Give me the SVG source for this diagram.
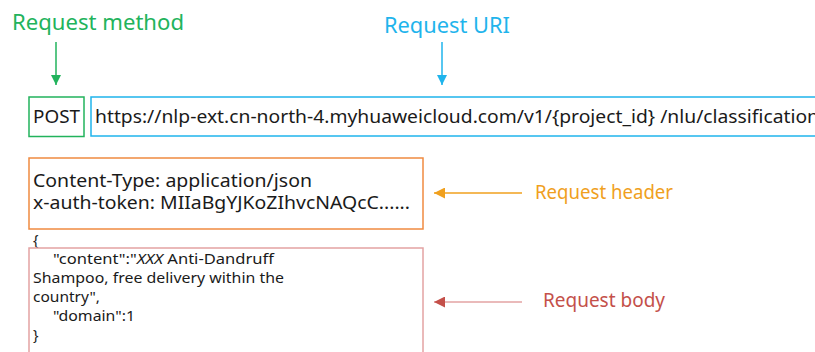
<svg xmlns="http://www.w3.org/2000/svg" width="815" height="352" viewBox="0 0 815 352">
  <style>
    text { font-family: "Noto Sans", "Open Sans", "DejaVu Sans", sans-serif; }
    .lbl { font-size: 19px; }
    .top { font-size: 21px; }
    .code { font-size: 18px; fill: #1a1a1a; }
    .body { font-size: 14.5px; fill: #1a1a1a; }
  </style>
  <defs>
    <marker id="ahGreen" viewBox="0 0 10 10" refX="10" refY="5" markerWidth="10" markerHeight="10" markerUnits="userSpaceOnUse" orient="auto">
      <path d="M0,0 L10,5 L0,10 z" fill="#22b35c"/>
    </marker>
    <marker id="ahBlue" viewBox="0 0 10 10" refX="10" refY="5" markerWidth="10" markerHeight="10" markerUnits="userSpaceOnUse" orient="auto">
      <path d="M0,0 L10,5 L0,10 z" fill="#1fb4ec"/>
    </marker>
    <marker id="ahOrange" viewBox="0 0 10 10" refX="10" refY="5" markerWidth="11" markerHeight="11" markerUnits="userSpaceOnUse" orient="auto">
      <path d="M0,0 L10,5 L0,10 z" fill="#f0a01e"/>
    </marker>
    <marker id="ahRed" viewBox="0 0 10 10" refX="10" refY="5" markerWidth="11" markerHeight="11" markerUnits="userSpaceOnUse" orient="auto">
      <path d="M0,0 L10,5 L0,10 z" fill="#c4504a"/>
    </marker>
  </defs>
  <rect width="815" height="352" fill="#ffffff"/>

  <!-- annotation labels -->
  <g id="label-method">
    <text class="top" x="12" y="30" fill="#22b35c" textLength="172" lengthAdjust="spacingAndGlyphs">Request method</text>
  </g>
  <g id="label-uri">
    <text class="top" x="384" y="33" fill="#1fb4ec" textLength="126" lengthAdjust="spacingAndGlyphs">Request URI</text>
  </g>
  <g id="label-header">
    <text class="lbl" x="535" y="199" fill="#f0a01e" textLength="138" lengthAdjust="spacingAndGlyphs">Request header</text>
  </g>
  <g id="label-body">
    <text class="lbl" x="543" y="307" fill="#c4504a" textLength="122" lengthAdjust="spacingAndGlyphs">Request body</text>
  </g>

  <!-- request line -->
  <g id="method">
    <rect x="29" y="97" width="55" height="39.5" fill="none" stroke="#22b35c" stroke-width="1.5"/>
    <text class="code" x="33" y="123" textLength="47" lengthAdjust="spacingAndGlyphs">POST</text>
  </g>
  <g id="uri">
    <rect x="91" y="97" width="740" height="39" fill="none" stroke="#1fb4ec" stroke-width="1.5"/>
    <text class="code" x="95" y="123" textLength="724" lengthAdjust="spacingAndGlyphs">https://nlp-ext.cn-north-4.myhuaweicloud.com/v1/{project_id} /nlu/classification</text>
  </g>

  <!-- headers -->
  <g id="header">
    <rect x="29" y="158" width="394" height="71" fill="none" stroke="#f08a40" stroke-width="1.5"/>
    <text class="code" x="33" y="187" textLength="279" lengthAdjust="spacingAndGlyphs">Content-Type: application/json</text>
    <text class="code" x="33" y="209" textLength="377" lengthAdjust="spacingAndGlyphs">x-auth-token: MIIaBgYJKoZIhvcNAQcC......</text>
  </g>

  <!-- body -->
  <g id="body">
    <text class="body" x="33" y="245">{</text>
    <rect x="29" y="248" width="394" height="120" fill="none" stroke="#e3a3a3" stroke-width="1.5"/>
    <text class="body" x="53" y="264" textLength="221" lengthAdjust="spacingAndGlyphs">"content":"<tspan font-style="italic">XXX</tspan> Anti-Dandruff</text>
    <text class="body" x="33" y="283" textLength="251" lengthAdjust="spacingAndGlyphs">Shampoo, free delivery within the</text>
    <text class="body" x="33" y="302" textLength="67" lengthAdjust="spacingAndGlyphs">country",</text>
    <text class="body" x="53" y="321" textLength="82" lengthAdjust="spacingAndGlyphs">"domain":1</text>
    <text class="body" x="33" y="340">}</text>
  </g>

  <!-- connectors -->
  <g id="connectors" fill="none" stroke-width="1.5">
    <line x1="56" y1="42" x2="56" y2="85" stroke="#22b35c" marker-end="url(#ahGreen)"/>
    <line x1="442" y1="42" x2="442" y2="85" stroke="#1fb4ec" marker-end="url(#ahBlue)"/>
    <line x1="522" y1="193" x2="434" y2="193" stroke="#f0a01e" marker-end="url(#ahOrange)"/>
    <line x1="522" y1="302" x2="434" y2="302" stroke="#e3a3a3" marker-end="url(#ahRed)"/>
  </g>
</svg>
